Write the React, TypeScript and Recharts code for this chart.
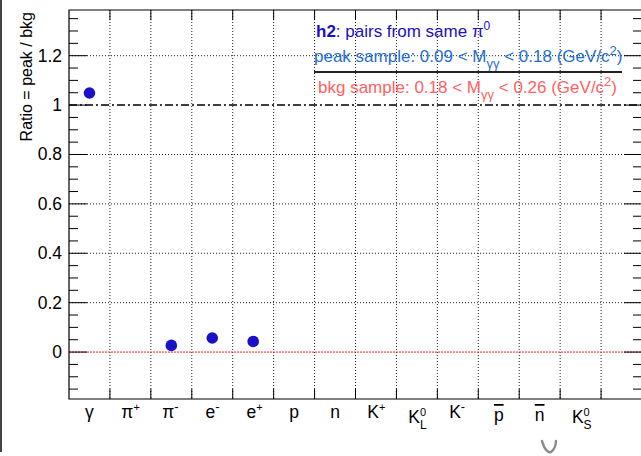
import React from "react";
import {
  ScatterChart,
  Scatter,
  XAxis,
  YAxis,
  CartesianGrid,
  ReferenceLine,
  ReferenceArea,
} from "recharts";

// particle species, one bin each (bin 14 is left empty)
const particles = [
  { base: "γ" },
  { base: "π", sup: "+" },
  { base: "π", sup: "-" },
  { base: "e", sup: "-" },
  { base: "e", sup: "+" },
  { base: "p" },
  { base: "n" },
  { base: "K", sup: "+" },
  { base: "K", sup: "0", sub: "L" },
  { base: "K", sup: "-" },
  { base: "p", bar: true },
  { base: "n", bar: true },
  { base: "K", sup: "0", sub: "S" },
];

// ratio peak / bkg per species (null = empty bin)
const ratio = [1.049, null, 0.027, 0.057, 0.043, null, null, null, null, null, null, null, null];

const yTicks = [0, 0.2, 0.4, 0.6, 0.8, 1, 1.2];
const yGridValues = [0.2, 0.4, 0.6, 0.8, 1.2];

const NBINS = 14;
const Y_MIN = -0.19;
const Y_MAX = 1.385;

const FONT = "'Liberation Sans', Arial, Helvetica, sans-serif";
const MARKER = "#1a10c8";

const points = particles
  .map((p, i) => ({ x: i + 0.5, y: ratio[i] }))
  .filter((d) => d.y !== null);

const binCenters = particles.map((_, i) => i + 0.5);
const binEdges = Array.from({ length: NBINS - 1 }, (_, i) => i + 1);

// minor ticks every 0.05
const minorTicks: number[] = [];
for (let k = -3; k <= 27; k++) {
  const v = Math.round(k * 5) / 100;
  if (k % 4 !== 0 && v > Y_MIN && v < Y_MAX) minorTicks.push(v);
}

// tick lengths in axis units
const MAJOR_LEN = 0.44;
const MINOR_LEN = 0.22;
const XTICK_LEN = 0.041;

function XLabel(props: any) {
  const { x, payload } = props;
  const p = particles[Math.round(payload.value - 0.5)];
  if (!p) return null;
  const y = 418;
  const hasScript = p.sup || p.sub;
  if (!hasScript) {
    return (
      <text
        x={x}
        y={p.bar ? y + 3 : y}
        textAnchor="middle"
        fontSize={17.5}
        fontFamily={FONT}
        fill="#000"
        style={p.bar ? { textDecoration: "overline" } : undefined}
      >
        {p.base}
      </text>
    );
  }
  const stacked = p.sup && p.sub;
  const by = stacked ? y + 5 : y;
  const ex = x + 3;
  return (
    <g>
      <text x={ex} y={by} textAnchor="end" fontSize={17.5} fontFamily={FONT} fill="#000">
        {p.base}
      </text>
      {p.sup && (
        <text x={ex} y={by - 7} fontSize={p.sup === "-" ? 13 : 11} fontFamily={FONT} fill="#000">
          {p.sup}
        </text>
      )}
      {p.sub && (
        <text x={ex} y={by + 6} fontSize={12} fontFamily={FONT} fill="#000">
          {p.sub}
        </text>
      )}
    </g>
  );
}

function YLabel(props: any) {
  const { y, payload } = props;
  return (
    <text x={62} y={y + 6} textAnchor="end" fontSize={17.5} fontFamily={FONT} fill="#000">
      {String(payload.value)}
    </text>
  );
}

export default function App() {
  return (
    <div
      style={{
        position: "fixed",
        left: 0,
        top: 0,
        width: 641,
        height: 456,
        overflow: "hidden",
        background: "#fff",
      }}
    >
      <ScatterChart width={680} height={456} margin={{ top: 10, right: 38, bottom: 0, left: 0 }}>
        <CartesianGrid
          stroke="#222"
          strokeDasharray="1 2"
          horizontalValues={yGridValues}
          verticalValues={binEdges}
        />
        <XAxis
          type="number"
          dataKey="x"
          domain={[0, NBINS]}
          ticks={binCenters}
          interval={0}
          allowDataOverflow
          axisLine={false}
          tickLine={false}
          height={57}
          tick={<XLabel />}
        />
        <YAxis
          type="number"
          dataKey="y"
          domain={[Y_MIN, Y_MAX]}
          ticks={yTicks}
          allowDataOverflow
          axisLine={false}
          tickLine={false}
          width={69}
          tick={<YLabel />}
        />
        <ReferenceLine y={0} stroke="#ee2222" strokeDasharray="2 1" ifOverflow="visible" />
        <ReferenceLine y={1} stroke="#000" strokeWidth={1.5} strokeDasharray="8 3 2 3" />
        {yTicks.map((v) => (
          <ReferenceLine
            key={`ml${v}`}
            segment={[{ x: 0, y: v }, { x: MAJOR_LEN, y: v }]}
            stroke="#000"
          />
        ))}
        {yTicks.map((v) => (
          <ReferenceLine
            key={`mr${v}`}
            segment={[{ x: NBINS - MAJOR_LEN, y: v }, { x: NBINS, y: v }]}
            stroke="#000"
          />
        ))}
        {minorTicks.map((v) => (
          <ReferenceLine
            key={`nl${v}`}
            segment={[{ x: 0, y: v }, { x: MINOR_LEN, y: v }]}
            stroke="#000"
          />
        ))}
        {minorTicks.map((v) => (
          <ReferenceLine
            key={`nr${v}`}
            segment={[{ x: NBINS - MINOR_LEN, y: v }, { x: NBINS, y: v }]}
            stroke="#000"
          />
        ))}
        {binEdges.map((e) => (
          <ReferenceLine
            key={`xb${e}`}
            segment={[{ x: e, y: Y_MIN }, { x: e, y: Y_MIN + XTICK_LEN }]}
            stroke="#000"
          />
        ))}
        {binEdges.map((e) => (
          <ReferenceLine
            key={`xt${e}`}
            segment={[{ x: e, y: Y_MAX - XTICK_LEN }, { x: e, y: Y_MAX }]}
            stroke="#000"
          />
        ))}
        <ReferenceArea
          x1={0}
          x2={NBINS}
          y1={Y_MIN}
          y2={Y_MAX}
          fill="none"
          fillOpacity={0}
          stroke="#000"
          strokeWidth={1.2}
          ifOverflow="visible"
        />
        <Scatter
          data={points}
          isAnimationActive={false}
          shape={(p: any) => <circle cx={p.cx} cy={p.cy} r={5.8} fill={MARKER} />}
        />
      </ScatterChart>

      <svg
        width={641}
        height={456}
        style={{ position: "absolute", left: 0, top: 0, pointerEvents: "none" }}
        fontFamily={FONT}
      >
        <text transform="translate(32, 12) rotate(-90)" textAnchor="end" fontSize={16} fill="#000">
          Ratio = peak / bkg
        </text>

        <text x={316} y={37} fontSize={17} fill={MARKER}>
          <tspan fontWeight="bold">h2</tspan>
          <tspan>: pairs from same π</tspan>
          <tspan dy={-7} fontSize={12}>0</tspan>
        </text>
        <text x={314} y={62} fontSize={17} fill="#1f6ed4">
          <tspan>peak sample: 0.09 &lt; M</tspan>
          <tspan dy={6} fontSize={13}>γγ</tspan>
          <tspan dy={-6}> &lt; 0.18 (GeV/c</tspan>
          <tspan dy={-7} fontSize={13}>2</tspan>
          <tspan dy={7}>)</tspan>
        </text>
        <line x1={314} x2={622} y1={72} y2={72} stroke="#222" strokeWidth={2} />
        <text x={318} y={93} fontSize={17} fill="#ff6262">
          <tspan>bkg sample: 0.18 &lt; M</tspan>
          <tspan dy={6} fontSize={13}>γγ</tspan>
          <tspan dy={-6}> &lt; 0.26 (GeV/c</tspan>
          <tspan dy={-7} fontSize={13}>2</tspan>
          <tspan dy={7}>)</tspan>
        </text>

        <line x1={1} x2={1} y1={0} y2={452} stroke="#444" strokeWidth={2} />
        {/* stray grey stroke below the n-bar label */}
        <path
          d="M542 441 C544 449 548 453 551 452 C554 450 556 445 556 441"
          fill="none"
          stroke="#8a8a8a"
          strokeWidth={2.5}
          strokeLinecap="round"
        />
      </svg>
    </div>
  );
}
